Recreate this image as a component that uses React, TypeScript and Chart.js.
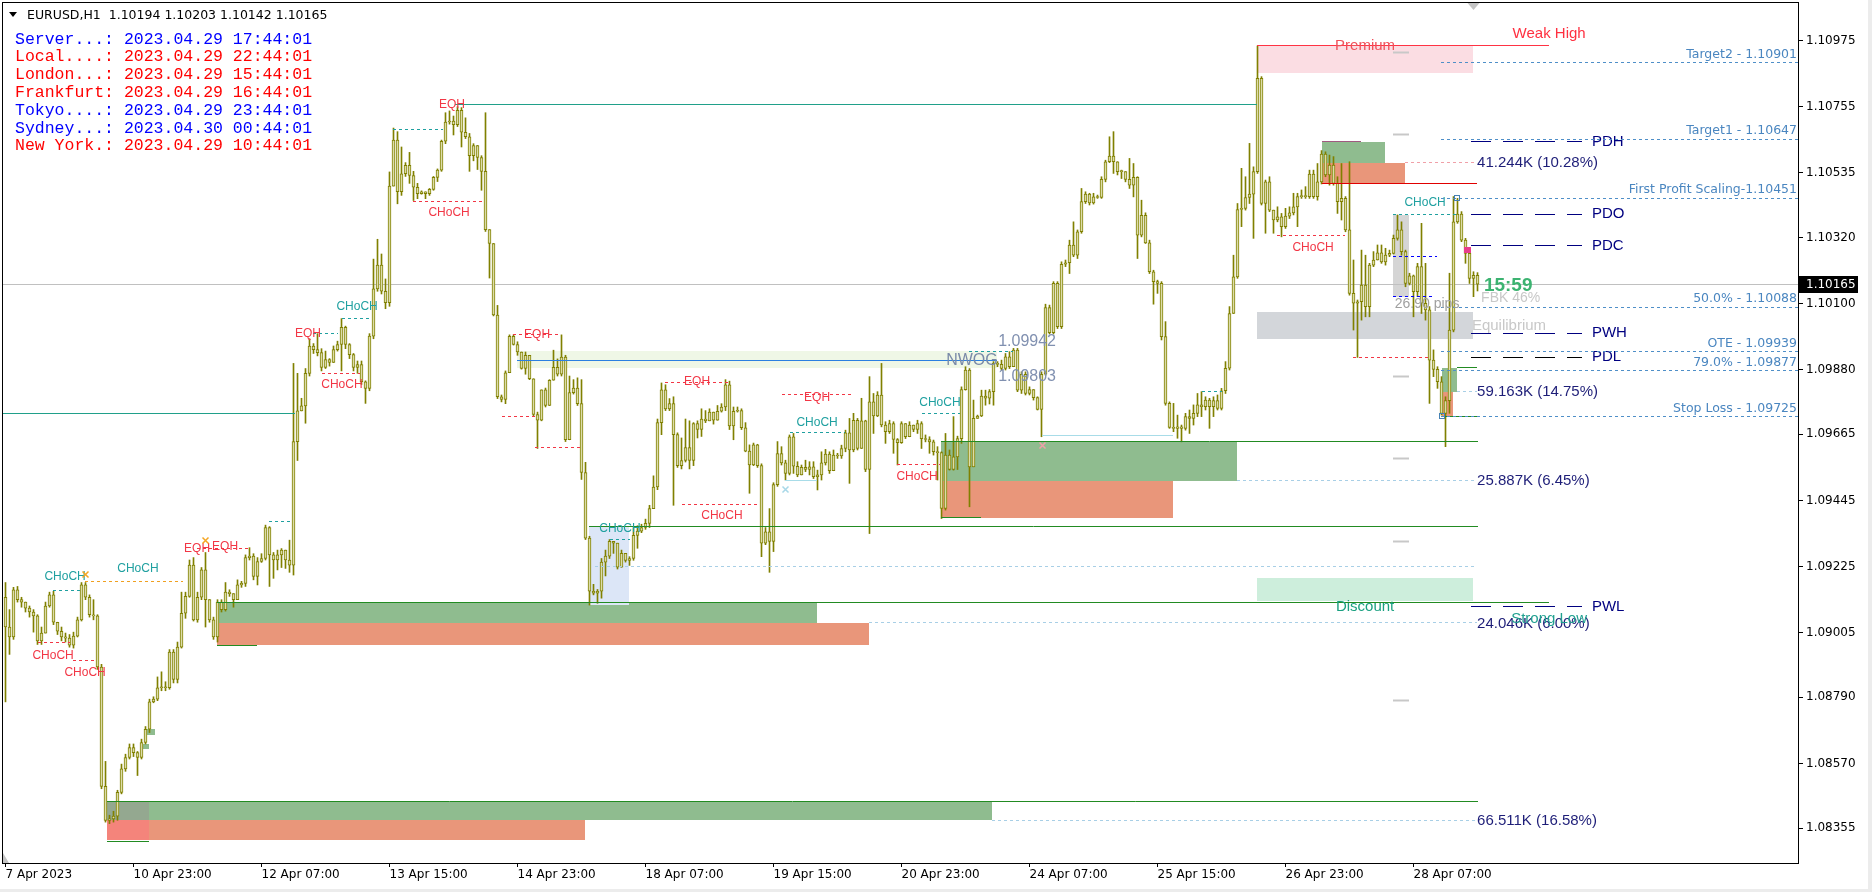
import React, { useEffect, useRef } from "react";
import { Chart, registerables } from "chart.js";
Chart.register(...registerables);

const W = 1872;
const H = 892;

// ---------------- candle data (EURUSD H1, 7 Apr 2023 15:00 .. 28 Apr 2023 23:00) ----------------
const firstOpen = 1.09123;
const closes = [
  1.09024, 1.08991, 1.09148, 1.09115, 1.09107, 1.09087, 1.09074, 1.09061, 1.08978, 1.09004,
  1.09094, 1.09131, 1.09040, 1.09010, 1.08991, 1.08987, 1.08964, 1.08994, 1.09048, 1.09164,
  1.09123, 1.09065, 1.09061, 1.08891, 1.08494, 1.08381, 1.08386, 1.08395, 1.08474, 1.08552,
  1.08590, 1.08623, 1.08606, 1.08590, 1.08640, 1.08684, 1.08775, 1.08784, 1.08822, 1.08825,
  1.08822, 1.08941, 1.08850, 1.08957, 1.09070, 1.09126, 1.09230, 1.09048, 1.09123, 1.09214,
  1.09115, 1.09048, 1.08991, 1.09107, 1.09082, 1.09140, 1.09135, 1.09115, 1.09164, 1.09169,
  1.09255, 1.09260, 1.09192, 1.09242, 1.09252, 1.09355, 1.09264, 1.09247, 1.09264, 1.09280,
  1.09247, 1.09230, 1.09641, 1.09743, 1.09760, 1.09868, 1.09959, 1.09947, 1.09937, 1.09888,
  1.09914, 1.09904, 1.09947, 1.09964, 1.10021, 1.09964, 1.09930, 1.09888, 1.09897, 1.09840,
  1.09818, 1.09992, 1.10149, 1.10228, 1.10141, 1.10103, 1.10491,
  1.10644, 1.10472, 1.10532,
  1.10560, 1.10526, 1.10487, 1.10466, 1.10472, 1.10466, 1.10480, 1.10520, 1.10544, 1.10640,
  1.10704, 1.10707, 1.10695, 1.10743, 1.10670, 1.10655, 1.10592, 1.10626, 1.10586, 1.10540,
  1.10346, 1.10300, 1.10062, 1.09790, 1.09781, 1.09870, 1.09991, 1.09964, 1.09939, 1.09884,
  1.09928, 1.09850, 1.09731, 1.09712, 1.09813, 1.09761, 1.09845, 1.09888, 1.09865, 1.09922,
  1.09647, 1.09804, 1.09819, 1.09767, 1.09538, 1.09320, 1.09143, 1.09137, 1.09143, 1.09240,
  1.09260, 1.09309, 1.09303, 1.09223, 1.09269, 1.09246, 1.09252, 1.09329, 1.09343, 1.09355,
  1.09369, 1.09418, 1.09490, 1.09704, 1.09813, 1.09750, 1.09767, 1.09664, 1.09561, 1.09578,
  1.09621, 1.09578, 1.09701, 1.09681, 1.09716, 1.09710, 1.09739, 1.09712, 1.09742, 1.09756,
  1.09830, 1.09693, 1.09742, 1.09744, 1.09687, 1.09609, 1.09563, 1.09630, 1.09561, 1.09303,
  1.09341, 1.09309, 1.09498, 1.09601,
  1.09570, 1.09535, 1.09657, 1.09559, 1.09530, 1.09555,
  1.09548, 1.09557, 1.09524, 1.09530, 1.09570, 1.09599, 1.09544, 1.09596, 1.09593, 1.09618,
  1.09670, 1.09613, 1.09712, 1.09618, 1.09710, 1.09548, 1.09773, 1.09726, 1.09796, 1.09696,
  1.09674, 1.09701, 1.09648, 1.09637, 1.09701, 1.09657, 1.09696, 1.09681, 1.09701, 1.09651,
  1.09648, 1.09640, 1.09607, 1.09604, 1.09419, 1.09596, 1.09548, 1.09590, 1.09651, 1.09814,
  1.09879, 1.09557, 1.09718, 1.09726, 1.09792, 1.09785, 1.09807, 1.09901, 1.09898, 1.09884,
  1.09923, 1.09890, 1.09945, 1.09812, 1.09865, 1.09801, 1.09814, 1.09787, 1.09748, 1.09865,
  1.10087, 1.10003, 1.10167, 1.10023, 1.10231, 1.10236, 1.10295, 1.10261, 1.10339, 1.10439,
  1.10464, 1.10435, 1.10455, 1.10453, 1.10513, 1.10572, 1.10591, 1.10572, 1.10539, 1.10539,
  1.10513, 1.10494, 1.10520, 1.10328, 1.10394, 1.10302, 1.10206, 1.10173, 1.10167, 1.09990,
  1.09768, 1.09688,
  1.09685, 1.09690, 1.09685, 1.09724, 1.09718, 1.09735, 1.09763, 1.09757, 1.09779, 1.09757,
  1.09777, 1.09751, 1.09810, 1.09885, 1.10067, 1.10189, 1.10413, 1.10417, 1.10453, 1.10464,
  1.10539, 1.10849, 1.10433, 1.10505, 1.10411, 1.10378, 1.10389, 1.10356, 1.10391, 1.10402,
  1.10422, 1.10456, 1.10458, 1.10456, 1.10531, 1.10456, 1.10505, 1.10597, 1.10528, 1.10561,
  1.10500, 1.10439, 1.10450, 1.10345, 1.10134, 1.10101, 1.10106, 1.10162, 1.10090, 1.10228,
  1.10245, 1.10269, 1.10239, 1.10261, 1.10267, 1.10317, 1.10345, 1.10273, 1.10167, 1.10192,
  1.10140, 1.10223, 1.10101, 1.10079, 1.09912, 1.09881, 1.09840, 1.09735, 1.09777, 1.10012,
  1.10372, 1.10398, 1.10311, 1.10267, 1.10184, 1.10194, 1.10165,
];
const highs = [
  1.09172, 1.09082, 1.09156, 1.09159, 1.09123, 1.09107, 1.09094, 1.09082, 1.09065, 1.09024,
  1.09107, 1.09140, 1.09143, 1.09040, 1.09024, 1.09004, 1.08999, 1.09007, 1.09057, 1.09172,
  1.09172, 1.09131, 1.09115, 1.09065, 1.08900, 1.08577, 1.08398, 1.08411, 1.08481, 1.08568,
  1.08601, 1.08635, 1.08635, 1.08610, 1.08651, 1.08693, 1.08784, 1.08792, 1.08858, 1.08875,
  1.08842, 1.08949, 1.08949, 1.08974, 1.09140, 1.09140, 1.09247, 1.09255, 1.09140, 1.09222,
  1.09272, 1.09115, 1.09057, 1.09115, 1.09115, 1.09172, 1.09148, 1.09123, 1.09181, 1.09176,
  1.09264, 1.09288, 1.09268, 1.09255, 1.09268, 1.09363, 1.09358, 1.09272, 1.09280, 1.09285,
  1.09280, 1.09313, 1.09901, 1.09868, 1.09785, 1.09884, 1.09983, 1.09967, 1.10000, 1.09950,
  1.09942, 1.09917, 1.09959, 1.09975, 1.10050, 1.10025, 1.09967, 1.09934, 1.09909, 1.09909,
  1.09843, 1.10000, 1.10248, 1.10314, 1.10265, 1.10182, 1.10538,
  1.10684, 1.10672, 1.10621,
  1.10569, 1.10603, 1.10540, 1.10500, 1.10475, 1.10468, 1.10483, 1.10523, 1.10548, 1.10644,
  1.10735, 1.10741, 1.10724, 1.10755, 1.10752, 1.10718, 1.10666, 1.10632, 1.10621, 1.10592,
  1.10735, 1.10346, 1.10288, 1.10094, 1.09796, 1.09876, 1.09996, 1.09996, 1.09973, 1.09933,
  1.09939, 1.09882, 1.09847, 1.09739, 1.09813, 1.09819, 1.09847, 1.09945, 1.09916, 1.09996,
  1.09928, 1.09859, 1.09847, 1.09853, 1.09847, 1.09572, 1.09326, 1.09166, 1.09149, 1.09252,
  1.09280, 1.09315, 1.09309, 1.09275, 1.09280, 1.09258, 1.09258, 1.09355, 1.09361, 1.09366,
  1.09383, 1.09429, 1.09527, 1.09716, 1.09836, 1.09830, 1.09784, 1.09790, 1.09670, 1.09653,
  1.09716, 1.09710, 1.09704, 1.09710, 1.09750, 1.09744, 1.09750, 1.09727, 1.09761, 1.09767,
  1.09847, 1.09842, 1.09756, 1.09756, 1.09750, 1.09704, 1.09630, 1.09636, 1.09632, 1.09567,
  1.09355, 1.09418, 1.09504, 1.09641,
  1.09624, 1.09579, 1.09663, 1.09668, 1.09574, 1.09563,
  1.09579, 1.09574, 1.09574, 1.09546, 1.09607, 1.09615, 1.09607, 1.09613, 1.09602, 1.09629,
  1.09679, 1.09718, 1.09735, 1.09718, 1.09785, 1.09712, 1.09857, 1.09801, 1.09807, 1.09901,
  1.09707, 1.09712, 1.09707, 1.09651, 1.09707, 1.09696, 1.09707, 1.09696, 1.09712, 1.09707,
  1.09663, 1.09657, 1.09646, 1.09624, 1.09607, 1.09668, 1.09613, 1.09724, 1.09659, 1.09823,
  1.09890, 1.09884, 1.09779, 1.09729, 1.09812, 1.09812, 1.09814, 1.09907, 1.09907, 1.09912,
  1.09934, 1.09940, 1.09951, 1.09951, 1.09873, 1.09873, 1.09823, 1.09812, 1.09790, 1.09873,
  1.10098, 1.10095, 1.10173, 1.10173, 1.10239, 1.10245, 1.10311, 1.10372, 1.10345, 1.10483,
  1.10472, 1.10467, 1.10467, 1.10461, 1.10522, 1.10577, 1.10655, 1.10672, 1.10572, 1.10544,
  1.10539, 1.10583, 1.10566, 1.10522, 1.10444, 1.10402, 1.10311, 1.10211, 1.10178, 1.10173,
  1.10040, 1.09773,
  1.09768, 1.09729, 1.09696, 1.09735, 1.09746, 1.09763, 1.09801, 1.09807, 1.09790, 1.09785,
  1.09790, 1.09796, 1.09818, 1.09907, 1.10090, 1.10261, 1.10433, 1.10550, 1.10522, 1.10633,
  1.10555, 1.10957, 1.10855, 1.10511, 1.10522, 1.10411, 1.10422, 1.10400, 1.10417, 1.10422,
  1.10467, 1.10467, 1.10478, 1.10489, 1.10544, 1.10544, 1.10566, 1.10609, 1.10605, 1.10594,
  1.10589, 1.10522, 1.10566, 1.10456, 1.10572, 1.10245, 1.10112, 1.10278, 1.10261, 1.10234,
  1.10273, 1.10295, 1.10295, 1.10284, 1.10278, 1.10328, 1.10395, 1.10372, 1.10278, 1.10201,
  1.10195, 1.10234, 1.10367, 1.10234, 1.10090, 1.09946, 1.09890, 1.09857, 1.09790, 1.10201,
  1.10456, 1.10450, 1.10406, 1.10317, 1.10278, 1.10206, 1.10203,
];
const lows = [
  1.08775, 1.08933, 1.08983, 1.09107, 1.09090, 1.09074, 1.09057, 1.09007, 1.08966, 1.08966,
  1.09015, 1.09090, 1.09032, 1.08999, 1.08978, 1.08974, 1.08957, 1.08954, 1.08991, 1.09044,
  1.09115, 1.09057, 1.09048, 1.08883, 1.08486, 1.08375, 1.08370, 1.08375, 1.08381, 1.08469,
  1.08544, 1.08585, 1.08593, 1.08530, 1.08585, 1.08635, 1.08673, 1.08772, 1.08779, 1.08812,
  1.08812, 1.08817, 1.08838, 1.08838, 1.08954, 1.09053, 1.09123, 1.09044, 1.09040, 1.09115,
  1.09024, 1.09040, 1.08983, 1.08974, 1.09074, 1.09077, 1.09126, 1.09090, 1.09126, 1.09156,
  1.09159, 1.09247, 1.09181, 1.09164, 1.09239, 1.09247, 1.09159, 1.09186, 1.09214, 1.09222,
  1.09219, 1.09206, 1.09197, 1.09578, 1.09743, 1.09702, 1.09859, 1.09934, 1.09926, 1.09876,
  1.09884, 1.09892, 1.09917, 1.09942, 1.09876, 1.09950, 1.09917, 1.09876, 1.09868, 1.09831,
  1.09768, 1.09810, 1.09983, 1.10141, 1.10132, 1.10083, 1.10091,
  1.10495, 1.10432, 1.10460,
  1.10523, 1.10500, 1.10443, 1.10449, 1.10464, 1.10449, 1.10460, 1.10477, 1.10506, 1.10540,
  1.10632, 1.10697, 1.10661, 1.10689, 1.10621, 1.10649, 1.10540, 1.10575, 1.10546, 1.10477,
  1.10340, 1.10185, 1.10059, 1.09784, 1.09773, 1.09767, 1.09870, 1.09962, 1.09928, 1.09882,
  1.09865, 1.09847, 1.09724, 1.09618, 1.09710, 1.09756, 1.09761, 1.09847, 1.09859, 1.09859,
  1.09641, 1.09647, 1.09799, 1.09761, 1.09515, 1.09315, 1.09097, 1.09131, 1.09103, 1.09120,
  1.09194, 1.09252, 1.09269, 1.09217, 1.09235, 1.09240, 1.09229, 1.09246, 1.09286, 1.09338,
  1.09349, 1.09355, 1.09418, 1.09481, 1.09664, 1.09744, 1.09744, 1.09429, 1.09555, 1.09550,
  1.09573, 1.09550, 1.09561, 1.09653, 1.09658, 1.09704, 1.09710, 1.09699, 1.09716, 1.09739,
  1.09744, 1.09681, 1.09647, 1.09739, 1.09681, 1.09607, 1.09469, 1.09561, 1.09555, 1.09258,
  1.09298, 1.09206, 1.09275, 1.09492,
  1.09563, 1.09513, 1.09530, 1.09535, 1.09524, 1.09530,
  1.09541, 1.09530, 1.09518, 1.09480, 1.09513, 1.09563, 1.09535, 1.09552, 1.09585, 1.09585,
  1.09607, 1.09502, 1.09607, 1.09613, 1.09618, 1.09541, 1.09335, 1.09668, 1.09724, 1.09690,
  1.09635, 1.09668, 1.09602, 1.09563, 1.09635, 1.09651, 1.09679, 1.09674, 1.09668, 1.09618,
  1.09640, 1.09602, 1.09596, 1.09513, 1.09385, 1.09413, 1.09546, 1.09546, 1.09548, 1.09635,
  1.09812, 1.09424, 1.09557, 1.09718, 1.09724, 1.09762, 1.09766, 1.09762, 1.09890, 1.09879,
  1.09879, 1.09884, 1.09912, 1.09807, 1.09801, 1.09796, 1.09796, 1.09779, 1.09746, 1.09657,
  1.09862, 1.09999, 1.09999, 1.10017, 1.10017, 1.10223, 1.10200, 1.10256, 1.10250, 1.10334,
  1.10433, 1.10428, 1.10431, 1.10450, 1.10450, 1.10505, 1.10569, 1.10533, 1.10528, 1.10516,
  1.10505, 1.10483, 1.10455, 1.10250, 1.10322, 1.10300, 1.10200, 1.10098, 1.10134, 1.09979,
  1.09762, 1.09685,
  1.09674, 1.09652, 1.09640, 1.09679, 1.09668, 1.09696, 1.09724, 1.09724, 1.09746, 1.09685,
  1.09724, 1.09746, 1.09746, 1.09801, 1.09879, 1.10067, 1.10184, 1.10356, 1.10411, 1.10433,
  1.10317, 1.10533, 1.10428, 1.10334, 1.10406, 1.10334, 1.10372, 1.10322, 1.10350, 1.10383,
  1.10395, 1.10356, 1.10450, 1.10450, 1.10450, 1.10450, 1.10444, 1.10498, 1.10522, 1.10494,
  1.10494, 1.10400, 1.10378, 1.10339, 1.10128, 1.10012, 1.09921, 1.10045, 1.10056, 1.10056,
  1.10223, 1.10245, 1.10234, 1.10228, 1.10256, 1.10265, 1.10311, 1.10261, 1.10156, 1.10162,
  1.10056, 1.10123, 1.10067, 1.10045, 1.09768, 1.09857, 1.09818, 1.09729, 1.09624, 1.09735,
  1.10006, 1.10367, 1.10306, 1.10234, 1.10167, 1.10123, 1.10142,
];

// ---------------- axes ----------------
const xTickIndex = [0, 32, 64, 96, 128, 160, 192, 224, 256, 288, 320, 352];
const xTickLabels = [
  "7 Apr 2023", "10 Apr 23:00", "12 Apr 07:00", "13 Apr 15:00", "14 Apr 23:00", "18 Apr 07:00",
  "19 Apr 15:00", "20 Apr 23:00", "24 Apr 07:00", "25 Apr 15:00", "26 Apr 23:00", "28 Apr 07:00",
];
const yTickValues = [
  1.10975, 1.10755, 1.10535, 1.1032, 1.101, 1.0988, 1.09665, 1.09445, 1.09225, 1.09005, 1.0879, 1.0857, 1.08355,
];
const X_MIN = -0.625;
const X_MAX = 448.375;
const Y_MIN = 1.08239;
const Y_MAX = 1.111;
const lastPrice = 1.10165;

// ---------------- overlays (bar index from/to, prices) ----------------
const OBG = "#8fbc8f";
const OBS = "#e9967a";
const TEAL = "#1fa0a0";
const RED = "#f23645";
const ORANGE = "#f0a020";
const BLUE = "#0000ff";
const DKGREEN = "#228b22";
const TEAL_LINE = "#20a08a";
const LBLUE = "#a8cfe6";

const zones: [number, number, number, number, string][] = [
  [312.9, 366.9, 1.10957, 1.10867, "#fbdde3"],
  [312.9, 366.9, 1.10072, 1.09982, "#d3d6da"],
  [312.9, 366.9, 1.09187, 1.09111, "#cdeedc"],
  [127.9, 247.9, 1.09942, 1.09886, "#eff7e6"],
  [25.4, 246.6, 1.08442, 1.08382, OBG],
  [25.4, 144.9, 1.08382, 1.08316, OBS],
  [25.4, 35.9, 1.08442, 1.08382, "#94a890"],
  [25.4, 35.9, 1.08382, 1.08316, "#f4847b"],
  [52.9, 202.9, 1.09107, 1.09038, OBG],
  [52.9, 215.9, 1.09038, 1.08964, OBS],
  [145.9, 155.9, 1.09357, 1.09097, "#dce6f7"],
  [233.9, 307.9, 1.0964, 1.0951, OBG],
  [233.9, 291.9, 1.0951, 1.09387, OBS],
  [329.1, 344.9, 1.10638, 1.10568, OBG],
  [329.1, 349.9, 1.10568, 1.10501, OBS],
  [359.1, 362.9, 1.09886, 1.09806, OBG],
  [359.1, 361.9, 1.09806, 1.09726, OBS],
  [346.9, 350.9, 1.10395, 1.10122, "#d5d5d5"],
  [35.4, 37.4, 1.08685, 1.08665, OBG],
  [33.9, 35.9, 1.08635, 1.08619, OBG],
];

const solidLines: [number, number, number, string][] = [
  [-0.6, 72.4, 1.09733, TEAL_LINE],
  [112.4, 312.9, 1.10761, TEAL_LINE],
  [312.9, 385.9, 1.10957, "#ff3344"],
  [25.4, 368.1, 1.08442, DKGREEN],
  [52.9, 385.9, 1.09107, DKGREEN],
  [145.9, 368.1, 1.09357, DKGREEN],
  [233.9, 368.1, 1.0964, DKGREEN],
  [329.1, 367.9, 1.10501, "#e00000"],
  [362.9, 367.9, 1.09886, DKGREEN],
  [359.1, 367.9, 1.09726, DKGREEN],
  [52.9, 62.9, 1.08964, DKGREEN],
  [233.9, 243.9, 1.09387, DKGREEN],
  [25.4, 35.9, 1.08312, DKGREEN],
  [329.1, 338.9, 1.10638, "#a05a80"],
  [127.9, 247.9, 1.09912, "#2b7fe0"],
  [259.1, 291.9, 1.0966, "#a8dce8"],
  [194.9, 202.9, 1.09513, "#a8dce8"],
];

const dottedLines: [number, number, number, string][] = [
  [246.6, 367.9, 1.08382, LBLUE],
  [215.9, 367.9, 1.0904, LBLUE],
  [147.4, 367.9, 1.09227, LBLUE],
  [307.9, 367.9, 1.0951, LBLUE],
  [362.9, 367.9, 1.09806, LBLUE],
  [349.9, 367.9, 1.10568, "#f0a0a8"],
];

const structLines: [number, number, number, string][] = [
  [11.9, 19.4, 1.09147, TEAL],
  [19.9, 44.4, 1.09174, ORANGE],
  [8.1, 16.1, 1.08971, RED],
  [16.9, 22.9, 1.08914, RED],
  [47.9, 60.6, 1.09284, RED],
  [65.9, 71.1, 1.09374, TEAL],
  [76.9, 83.1, 1.09999, TEAL],
  [79.1, 88.6, 1.09869, RED],
  [84.1, 91.6, 1.10049, TEAL],
  [96.9, 109.4, 1.10678, TEAL],
  [101.9, 119.4, 1.10441, RED],
  [126.9, 138.6, 1.09996, RED],
  [124.1, 132.4, 1.09726, RED],
  [132.4, 143.6, 1.0962, RED],
  [164.9, 180.6, 1.09839, RED],
  [169.1, 188.6, 1.0943, RED],
  [151.1, 156.1, 1.09314, TEAL],
  [194.1, 211.6, 1.09796, RED],
  [196.1, 209.9, 1.0967, TEAL],
  [229.1, 238.6, 1.09733, TEAL],
  [222.9, 233.6, 1.09566, RED],
  [240.9, 251.9, 1.09939, TEAL],
  [299.1, 304.1, 1.09806, TEAL],
  [317.9, 334.9, 1.10325, RED],
  [336.9, 356.1, 1.09922, RED],
  [346.9, 362.9, 1.10395, TEAL],
  [346.9, 357.9, 1.10258, BLUE],
  [346.9, 357.4, 1.10125, BLUE],
];

const structLabels: [string, number, number, string][] = [
  ["CHoCH", 14.9, 1.09191, TEAL],
  ["CHoCH", 33.1, 1.09217, TEAL],
  ["CHoCH", 11.9, 1.08928, RED],
  ["CHoCH", 19.9, 1.08871, RED],
  ["EQH", 47.9, 1.09284, RED],
  ["EQH", 54.9, 1.0929, RED],
  ["EQH", 75.6, 1.09999, RED],
  ["CHoCH", 84.1, 1.09829, RED],
  ["CHoCH", 87.9, 1.10089, TEAL],
  ["EQH", 111.6, 1.10761, RED],
  ["CHoCH", 110.9, 1.10401, RED],
  ["EQH", 132.9, 1.09996, RED],
  ["EQH", 172.9, 1.09839, RED],
  ["CHoCH", 179.1, 1.09393, RED],
  ["CHoCH", 153.6, 1.0935, TEAL],
  ["EQH", 202.9, 1.09786, RED],
  ["CHoCH", 202.9, 1.09703, TEAL],
  ["CHoCH", 233.6, 1.09769, TEAL],
  ["CHoCH", 227.9, 1.09523, RED],
  ["CHoCH", 326.9, 1.10285, RED],
  ["CHoCH", 354.9, 1.10435, TEAL],
];

const crossMarks: [number, number, string][] = [
  [19.9, 1.09201, "#f5a623"],
  [49.9, 1.09314, "#f5a623"],
  [194.9, 1.09483, "#a8d8e8"],
  [259.1, 1.0963, "#f0a0a8"],
];

const keyLevelNames = ["PDH", "PDO", "PDC", "PWH", "PDL", "PWL"];
const keyLevelPrices = [1.10638, 1.10398, 1.10292, 1.10002, 1.09922, 1.09091];
const keyLevelColors = ["#000080", "#000080", "#000080", "#000080", "#000000", "#000080"];

const targetLabels = [
  "Target2 - 1.10901", "Target1 - 1.10647", "First Profit Scaling-1.10451", "50.0% - 1.10088",
  "OTE - 1.09939", "79.0% - 1.09877", "Stop Loss - 1.09725",
];
const targetPrices = [1.10901, 1.10647, 1.10451, 1.10088, 1.09939, 1.09877, 1.09725];

const volumeLabels = ["41.244K (10.28%)", "59.163K (14.75%)", "25.887K (6.45%)", "24.046K (6.00%)", "66.511K (16.58%)"];
const volumePrices = [1.10568, 1.09806, 1.0951, 1.09035, 1.08379];

const sessionTicks = [1.10934, 1.10664, 1.09856, 1.09586, 1.0931, 1.08781];

const clockNames = ["Server...:", "Local....:", "London...:", "Frankfurt:", "Tokyo....:", "Sydney...:", "New York.:"];
const clockTimes = [
  "2023.04.29 17:44:01", "2023.04.29 22:44:01", "2023.04.29 15:44:01", "2023.04.29 16:44:01",
  "2023.04.29 23:44:01", "2023.04.30 00:44:01", "2023.04.29 10:44:01",
];
const clockColors = ["#0000ff", "#ff0000", "#ff0000", "#ff0000", "#0000ff", "#0000ff", "#ff0000"];
const headerText = "EURUSD,H1  1.10194 1.10203 1.10142 1.10165";

// ---------------- drawing helpers ----------------
function hline(ctx: CanvasRenderingContext2D, x0: number, x1: number, y: number, color: string, dash: number[] = [], lw = 1) {
  const yy = Math.floor(y) + 0.5;
  ctx.save();
  ctx.strokeStyle = color;
  ctx.lineWidth = lw;
  ctx.setLineDash(dash);
  ctx.beginPath();
  ctx.moveTo(Math.round(x0), yy);
  ctx.lineTo(Math.round(x1), yy);
  ctx.stroke();
  ctx.restore();
}
function text(ctx: CanvasRenderingContext2D, s: string, x: number, y: number, color: string, font: string, align: CanvasTextAlign = "left") {
  ctx.save();
  ctx.fillStyle = color;
  ctx.font = font;
  ctx.textAlign = align;
  ctx.textBaseline = "middle";
  ctx.fillText(s, x, y);
  ctx.restore();
}

const overlayPlugin = {
  id: "overlay",
  beforeDraw(chart: any) {
    const ctx = chart.ctx as CanvasRenderingContext2D;
    ctx.save();
    ctx.fillStyle = "#ffffff";
    ctx.fillRect(0, 0, W, H);
    ctx.fillStyle = "#ececec";
    ctx.fillRect(1868, 0, 4, H);
    ctx.fillRect(0, 889, W, 3);
    ctx.restore();
  },
  beforeDatasetsDraw(chart: any) {
    const ctx = chart.ctx as CanvasRenderingContext2D;
    const a = chart.chartArea;
    const xs = chart.scales.x;
    const ys = chart.scales.y;
    ctx.save();
    ctx.beginPath();
    ctx.rect(a.left, a.top, a.right - a.left, a.bottom - a.top);
    ctx.clip();
    for (const [i0, i1, pt, pb, c] of zones) {
      const X0 = Math.round(xs.getPixelForValue(i0));
      const X1 = Math.round(xs.getPixelForValue(i1));
      const Y0 = Math.round(ys.getPixelForValue(pt));
      const Y1 = Math.round(ys.getPixelForValue(pb));
      ctx.fillStyle = c;
      ctx.fillRect(X0, Y0, X1 - X0, Y1 - Y0);
    }
    hline(ctx, a.left, a.right, ys.getPixelForValue(lastPrice), "#c0c0c0");
    for (const p of sessionTicks) {
      hline(ctx, xs.getPixelForValue(346.9), xs.getPixelForValue(350.9), ys.getPixelForValue(p), "#c8c8c8", [], 2);
    }
    ctx.restore();
  },
  afterDatasetsDraw(chart: any) {
    const ctx = chart.ctx as CanvasRenderingContext2D;
    const a = chart.chartArea;
    const xs = chart.scales.x;
    const ys = chart.scales.y;
    const X = (i: number) => xs.getPixelForValue(i);
    const Y = (p: number) => ys.getPixelForValue(p);
    ctx.save();
    ctx.beginPath();
    ctx.rect(a.left, a.top, a.right - a.left, a.bottom - a.top);
    ctx.clip();

    for (const [i0, i1, p, c] of solidLines) hline(ctx, X(i0), X(i1), Y(p), c);
    for (const [i0, i1, p, c] of dottedLines) hline(ctx, X(i0), X(i1), Y(p), c, [3, 3]);
    for (const [i0, i1, p, c] of structLines) hline(ctx, X(i0), X(i1), Y(p), c, [3, 3]);

    const smallFont = '12px "Liberation Sans"';
    for (const [s, i, p, c] of structLabels) text(ctx, s, X(i), Y(p), c, smallFont, "center");

    for (const [i, p, c] of crossMarks) {
      const cx = Math.round(X(i)) + 0.5;
      const cy = Math.round(Y(p)) + 0.5;
      ctx.save();
      ctx.strokeStyle = c;
      ctx.lineWidth = 1.5;
      ctx.beginPath();
      ctx.moveTo(cx - 3, cy - 3); ctx.lineTo(cx + 3, cy + 3);
      ctx.moveTo(cx + 3, cy - 3); ctx.lineTo(cx - 3, cy + 3);
      ctx.stroke();
      ctx.restore();
    }

    // key levels
    keyLevelNames.forEach((nm, k) => {
      const yy = Y(keyLevelPrices[k]);
      hline(ctx, X(366.4), X(394.1), yy, keyLevelColors[k], [20, 12]);
      text(ctx, nm, X(396.6), yy, keyLevelColors[k] === "#000000" ? "#000080" : keyLevelColors[k], '15px "Liberation Sans"', "left");
    });

    // targets
    targetLabels.forEach((lb, k) => {
      const yy = Y(targetPrices[k]);
      hline(ctx, X(358.9), a.right, yy, "#4f8fc8", [3, 3]);
      text(ctx, lb, a.right - 2, yy - 8, "#4a86c0", '12.5px "DejaVu Sans"', "right");
    });

    // volume labels
    volumeLabels.forEach((lb, k) => {
      text(ctx, lb, X(367.9), Y(volumePrices[k]), "#1e1e78", '15px "Liberation Sans"', "left");
    });

    // zone texts
    text(ctx, "Weak High", X(385.9), Y(1.10997), "#ff3040", '15px "Liberation Sans"', "center");
    text(ctx, "Premium", X(339.9), Y(1.10957), "#f0505a", '15px "Liberation Sans"', "center");
    text(ctx, "Equilibrium", X(366.6), Y(1.10026), "#c8c8c8", '15px "Liberation Sans"', "left");
    text(ctx, "Discount", X(339.9), Y(1.09091), "#1aa080", '15px "Liberation Sans"', "center");
    text(ctx, "Strong Low", X(385.9), Y(1.09051), "#20a090", '15px "Liberation Sans"', "center");
    text(ctx, "NWOG", X(241.6), Y(1.09912), "#7a8aa8", '16px "Liberation Sans"', "center");
    text(ctx, "1.09942", X(255.4), Y(1.09972), "#8090b0", '16px "Liberation Sans"', "center");
    text(ctx, "1.09803", X(255.4), Y(1.09856), "#8090b0", '16px "Liberation Sans"', "center");
    text(ctx, "26.90 pips", X(355.4), Y(1.10099), "#a0a0a0", '14px "Liberation Sans"', "center");
    text(ctx, "FBK 46%", X(368.9), Y(1.10119), "#c8c8c8", '14px "Liberation Sans"', "left");
    text(ctx, "15:59", X(369.6), Y(1.10159), "#3cb371", 'bold 19px "Liberation Sans"', "left");

    // small markers
    const sq = (i: number, p: number) => {
      const cx = Math.round(X(i)); const cy = Math.round(Y(p));
      ctx.strokeStyle = "#4682b4"; ctx.lineWidth = 1; ctx.setLineDash([]);
      ctx.strokeRect(cx - 2.5, cy - 2.5, 5, 5);
    };
    sq(362.9, 1.10451);
    sq(359.1, 1.09726);
    ctx.fillStyle = "#e83e8c";
    ctx.fillRect(Math.round(X(365.4)) - 3, Math.round(Y(1.10278)) - 3, 7, 6);
    ctx.restore();
  },
  afterDraw(chart: any) {
    const ctx = chart.ctx as CanvasRenderingContext2D;
    const a = chart.chartArea;
    const xs = chart.scales.x;
    const ys = chart.scales.y;
    ctx.save();
    // frame
    ctx.strokeStyle = "#000";
    ctx.lineWidth = 1;
    ctx.setLineDash([]);
    ctx.strokeRect(a.left - 0.5, a.top - 0.5, a.right - a.left, a.bottom - a.top + 1);
    // chart-shift marker
    const sx = Math.round(xs.getPixelForValue(366.9)) + 0.5;
    ctx.fillStyle = "#c4c4c4";
    ctx.beginPath();
    ctx.moveTo(sx - 6, a.top); ctx.lineTo(sx + 6, a.top); ctx.lineTo(sx, a.top + 7); ctx.closePath(); ctx.fill();
    ctx.beginPath();
    ctx.moveTo(a.left, a.bottom - 10); ctx.lineTo(a.left, a.bottom); ctx.lineTo(a.left + 6, a.bottom); ctx.closePath(); ctx.fill();
    // current price box
    const py = Math.round(ys.getPixelForValue(lastPrice));
    ctx.fillStyle = "#000";
    ctx.fillRect(a.right, py - 8, 59, 17);
    text(ctx, lastPrice.toFixed(5), a.right + 7, py + 0.5, "#fff", '12px "DejaVu Sans"', "left");
    // header
    ctx.fillStyle = "#000";
    ctx.beginPath();
    ctx.moveTo(9, 12); ctx.lineTo(17, 12); ctx.lineTo(13, 17); ctx.closePath(); ctx.fill();
    text(ctx, headerText, 27, 15.5, "#000", '12.5px "DejaVu Sans"', "left");
    // clocks
    const clockY = [39.3, 57, 75, 92.8, 110.5, 128.3, 146];
    clockNames.forEach((nm, k) => {
      text(ctx, nm + " " + clockTimes[k], 15, clockY[k], clockColors[k], '16.5px "Liberation Mono"', "left");
    });
    ctx.restore();
  },
};

export default function App() {
  const ref = useRef<HTMLCanvasElement>(null);
  useEffect(() => {
    if (!ref.current) return;
    const n = Math.min(closes.length, highs.length, lows.length);
    const bodyData: any[] = [];
    const wickData: any[] = [];
    for (let i = 0; i < n; i++) {
      const o = i === 0 ? firstOpen : closes[i - 1];
      const c = closes[i];
      bodyData.push({ x: i, y: [o, c] });
      wickData.push({ x: i, y: [Math.min(lows[i], o, c), Math.max(highs[i], o, c)] });
    }
    const tickFont = { family: "DejaVu Sans", size: 12 };
    const zeroPad = (s: any) => {
      s.paddingTop = 0;
      s.paddingBottom = 0;
      s.paddingLeft = 0;
      s.paddingRight = 0;
    };
    const chart = new Chart(ref.current, {
      type: "bar",
      data: {
        datasets: [
          {
            data: bodyData,
            backgroundColor: "#dcdca8",
            borderColor: "#808000",
            borderWidth: 1,
            borderSkipped: false,
            barThickness: 3,
            grouped: false,
            minBarLength: 1,
          } as any,
          {
            data: wickData,
            backgroundColor: "#808000",
            borderWidth: 0,
            barThickness: 1,
            grouped: false,
          } as any,
        ],
      },
      options: {
        responsive: false,
        animation: false,
        devicePixelRatio: 1,
        events: [],
        layout: { padding: { left: 3, top: 3, right: 0, bottom: 0 } },
        plugins: { legend: { display: false }, tooltip: { enabled: false } },
        scales: {
          x: {
            type: "linear",
            position: "bottom",
            min: X_MIN,
            max: X_MAX,
            offset: false,
            bounds: "data",
            afterFit: (s: any) => { s.height = 29; zeroPad(s); },
            afterBuildTicks: (s: any) => { s.ticks = xTickIndex.map((v) => ({ value: v })); },
            ticks: {
              autoSkip: false,
              maxRotation: 0,
              minRotation: 0,
              align: "start",
              padding: 1,
              color: "#000",
              font: tickFont,
              callback: (v: any) => {
                const k = xTickIndex.indexOf(Number(v));
                return k >= 0 ? xTickLabels[k] : "";
              },
            },
            grid: { drawOnChartArea: false, drawTicks: true, tickLength: 4, color: "#000", offset: false },
            border: { display: false },
          },
          y: {
            type: "linear",
            position: "right",
            min: Y_MIN,
            max: Y_MAX,
            beginAtZero: false,
            bounds: "data",
            afterFit: (s: any) => { s.width = 73; zeroPad(s); },
            afterBuildTicks: (s: any) => { s.ticks = yTickValues.map((v) => ({ value: v })); },
            ticks: {
              padding: 3,
              color: "#000",
              font: tickFont,
              callback: (v: any) => Number(v).toFixed(5),
            },
            grid: { drawOnChartArea: false, drawTicks: true, tickLength: 4, color: "#000" },
            border: { display: false },
          },
        },
      } as any,
      plugins: [overlayPlugin as any],
    });
    return () => chart.destroy();
  }, []);
  return (
    <div style={{ position: "fixed", left: 0, top: 0, width: W, height: H, background: "#fff" }}>
      <canvas ref={ref} width={W} height={H} style={{ width: W, height: H, display: "block" }} />
    </div>
  );
}
